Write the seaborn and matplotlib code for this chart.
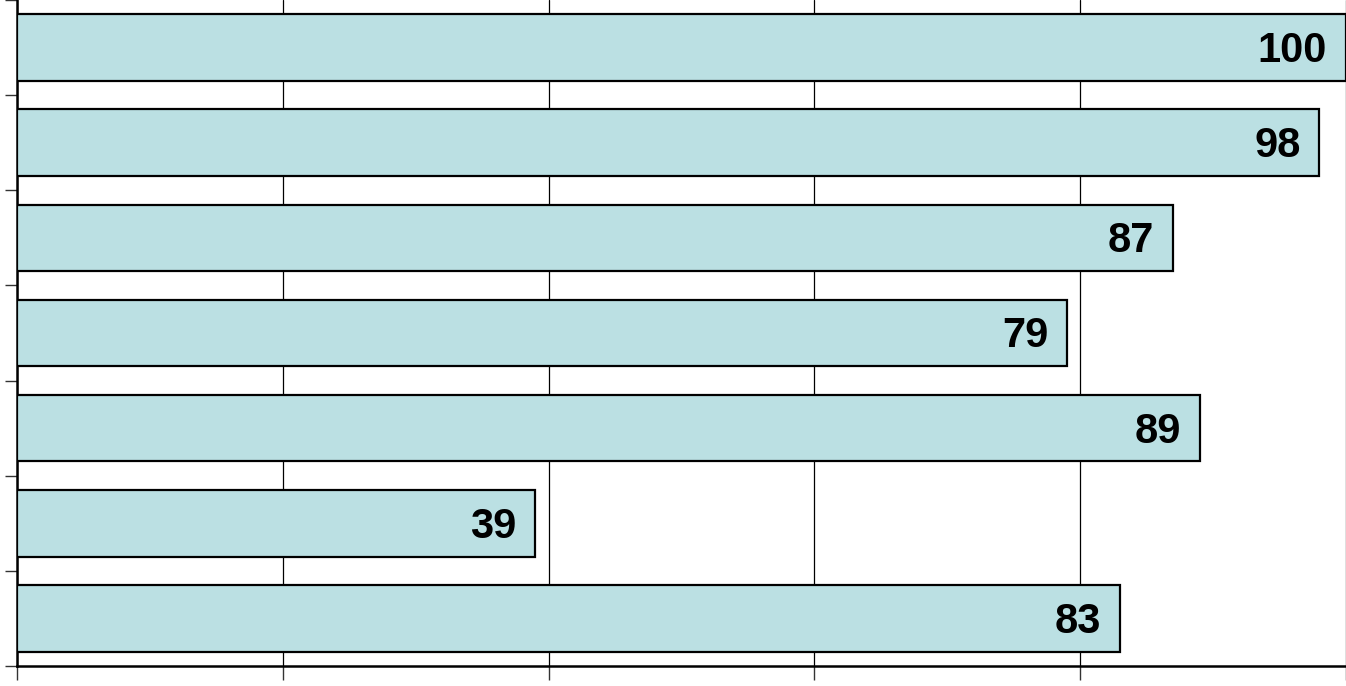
import numpy as np
import pandas as pd
import matplotlib
matplotlib.use("Agg")
import matplotlib.pyplot as plt
import seaborn as sns

categories = ["A", "B", "C", "D", "E", "F", "G"]
values = [100, 98, 87, 79, 89, 39, 83]
x_ticks = [0, 20, 40, 60, 80, 100]

sns.set_theme(style="white")
plt.rcParams['font.family'] = ['Liberation Sans', 'DejaVu Sans']

df = pd.DataFrame({"cat": categories, "val": values})

fig = plt.figure(figsize=(13.46, 6.86), dpi=100)
ax = fig.add_axes([17/1346, 20/686, 1329/1346, 666/686])

sns.barplot(data=df, x="val", y="cat", color="#BBE0E3", saturation=1,
            edgecolor="black", linewidth=1.6, width=0.7, ax=ax, zorder=3)

ax.set_xlim(0, 100)
ax.set_ylim(len(categories) - 0.5, -0.5)
ax.set_xticks(x_ticks)
ax.set_xticklabels([])
ax.set_yticks(np.arange(-0.5, len(categories), 1.0))
ax.set_yticklabels([])
ax.set_xlabel("")
ax.set_ylabel("")
ax.grid(axis="x", color="black", linewidth=0.9, zorder=0)
ax.set_axisbelow(True)
ax.tick_params(axis="x", direction="out", length=10, width=1, color="#333333", bottom=True)
ax.tick_params(axis="y", direction="out", length=9, width=1, color="#333333", left=True)
for s in ["top", "right"]:
    ax.spines[s].set_visible(False)
for s in ["left", "bottom"]:
    ax.spines[s].set_visible(True)
    ax.spines[s].set_color("black")
    ax.spines[s].set_linewidth(1.8)

for i, v in enumerate(values):
    ax.annotate(str(v), xy=(v, i), xytext=(-13.5, -2.5), textcoords="offset points",
                ha="right", va="center", fontsize=30, fontweight="bold",
                color="black", zorder=5)

fig.savefig("out.png", dpi=100)
